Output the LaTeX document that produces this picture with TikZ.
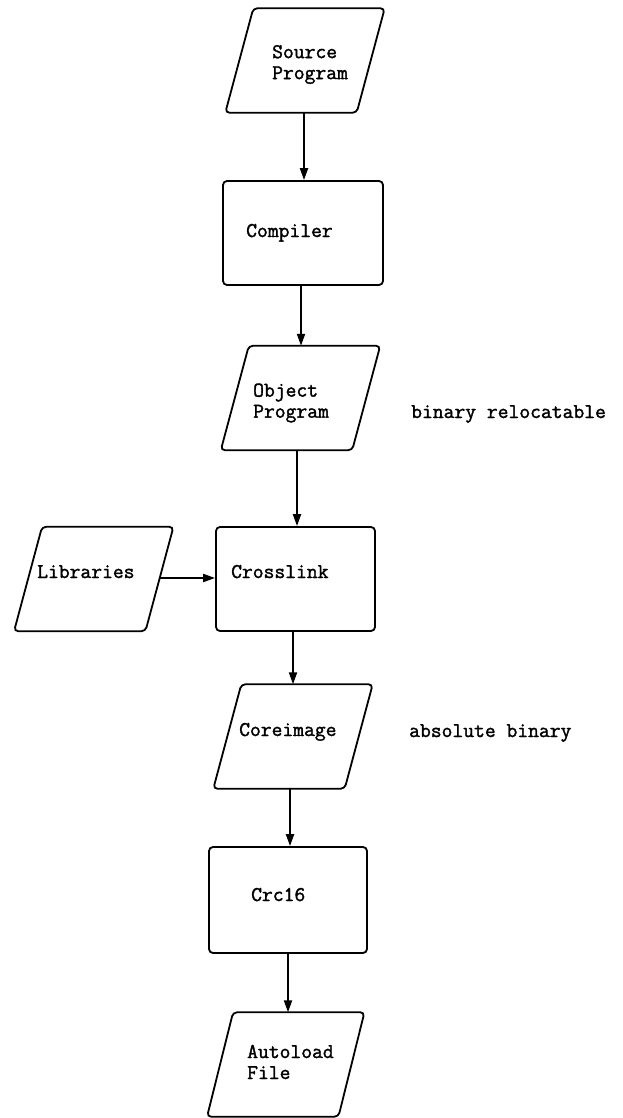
\documentclass[tikz,border=0pt]{standalone}
\usepackage{fontspec}
\newfontfamily\tw{Latin Modern Mono}[AutoFakeBold=1.6]
\usetikzlibrary{arrows.meta,calc}
\newcommand\paraoutline[2]{%
  \draw[outline] ([xshift=#2]#1.north west) -- ([xshift=#2]#1.north east)
    -- ([xshift=-#2]#1.south east) -- ([xshift=-#2]#1.south west) -- cycle;}
\begin{document}
\begin{tikzpicture}[x=1pt,y=-1pt,
  outline/.style={draw=black,line width=1.8pt,rounded corners=4pt},
  rectbox/.style={draw=black,line width=1.8pt,rounded corners=4pt,inner sep=0pt,
    minimum height=104pt},
  parabox/.style={inner sep=0pt,minimum width=131pt,minimum height=104pt},
  txt/.style={font=\tw\bfseries\fontsize{21}{21}\selectfont,inner sep=0pt,align=left},
  arr/.style={line width=2pt,-{Triangle[length=12pt,width=8pt]}}]
\useasboundingbox (0,0) rectangle (622,1118);

% shapes
\node[parabox] (src) at (305,60.5) {};
\node[rectbox,minimum width=160pt] (comp) at (303,233) {};
\node[parabox] (obj) at (300.5,398) {};
\node[rectbox,minimum width=159pt] (cross) at (295.5,579) {};
\node[parabox] (lib) at (93.75,579) {};
\node[parabox] (core) at (293,736.5) {};
\node[rectbox,minimum width=158pt,minimum height=106pt] (crc) at (288,900) {};
\node[parabox] (auto) at (285.75,1064.5) {};

\paraoutline{src}{14pt}
\paraoutline{obj}{14pt}
\paraoutline{lib}{14pt}
\paraoutline{core}{14pt}
\paraoutline{auto}{13pt}

% texts
\node[txt,anchor=west] (srcT) at (272,64.5) {Source\\Program};
\node[txt,anchor=base west] (compT) at (246,237) {Compiler};
\node[txt,anchor=west] (objT) at (253,403) {Object\\Program};
\node[txt,anchor=base west] (objN) at (411,418) {binary relocatable};
\node[txt,anchor=base west] (libT) at (37,578) {Libraries};
\node[txt,anchor=base west] (crossT) at (231,578) {Crosslink};
\node[txt,anchor=base west] (coreT) at (239,736) {Coreimage};
\node[txt,anchor=base west] (coreN) at (409,737) {absolute binary};
\node[txt,anchor=base west] (crcT) at (251,901) {Crc16};
\node[txt,anchor=west] (autoT) at (247,1062) {Autoload\\File};

% connector columns
\coordinate (m1) at (304,0);
\coordinate (m2) at (301,0);
\coordinate (m3) at (297,0);
\coordinate (m4) at (293,0);
\coordinate (m5) at (290,0);
\coordinate (m6) at (288,0);
\coordinate (h1) at (0,578);
\draw[arr] (m1 |- src.south) -- (m1 |- comp.north);
\draw[arr] (m2 |- comp.south) -- (m2 |- obj.north);
\draw[arr] (m3 |- obj.south) -- (m3 |- cross.north);
\draw[arr] (m4 |- cross.south) -- (m4 |- core.north);
\draw[arr] (m5 |- core.south) -- (m5 |- crc.north);
\draw[arr] (m6 |- crc.south) -- (m6 |- auto.north);
\draw[arr] (lib.east |- h1) -- (cross.west |- h1);
\end{tikzpicture}
\end{document}
